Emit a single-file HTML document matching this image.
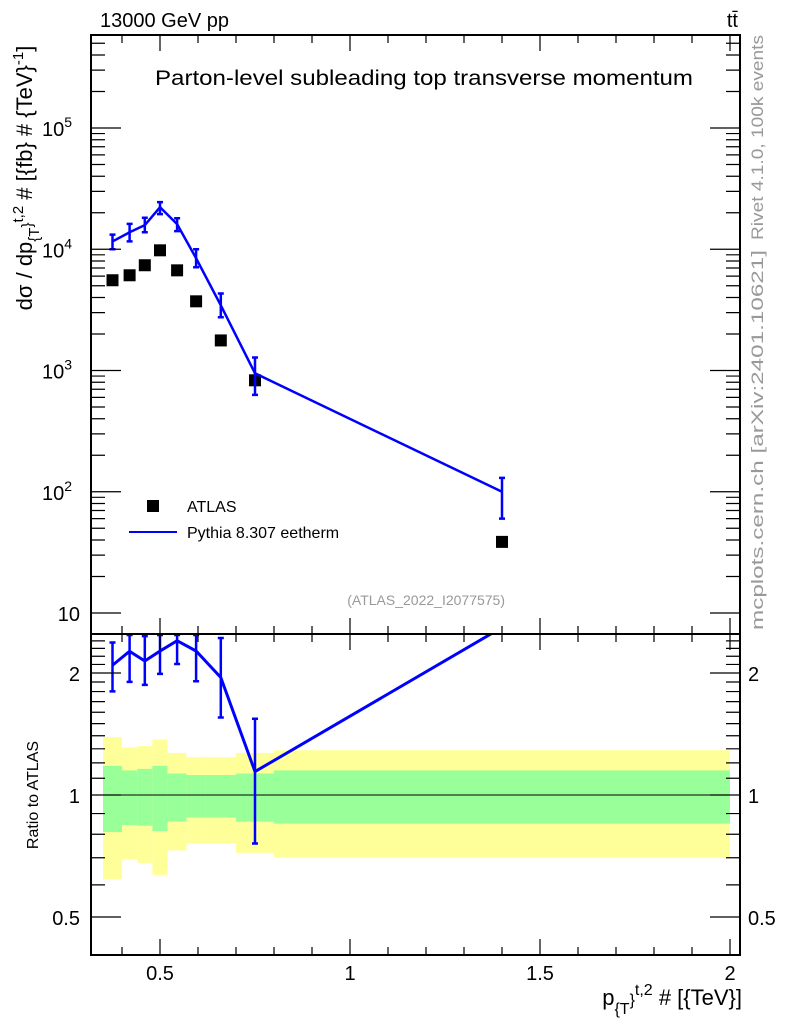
<!DOCTYPE html>
<html><head><meta charset="utf-8"><style>
body{margin:0;background:#fff;}
svg{display:block;font-family:"Liberation Sans",sans-serif;}
</style></head><body>
<svg id="c" width="786" height="1024" viewBox="0 0 786 1024" xmlns="http://www.w3.org/2000/svg">
<rect width="786" height="1024" fill="#fff"/>
<g id="bands"></g>
<g id="marks"></g>
<g id="axes"></g>
<text x="100" y="27" font-size="20">13000 GeV pp</text>
<text x="738" y="27" font-size="20" text-anchor="end">tt̄</text>
<text x="424" y="85" font-size="21" text-anchor="middle" textLength="538" lengthAdjust="spacingAndGlyphs">Parton-level subleading top transverse momentum</text>
<text transform="translate(763,240) rotate(-90)" font-size="17" fill="#999" textLength="205" lengthAdjust="spacingAndGlyphs">Rivet 4.1.0,  100k events</text>
<text transform="translate(763,630) rotate(-90)" font-size="17" fill="#999" textLength="380" lengthAdjust="spacingAndGlyphs">mcplots.cern.ch [arXiv:2401.10621]</text>
<text x="505" y="605" font-size="14" fill="#999" text-anchor="end">(ATLAS_2022_I2077575)</text>
<g>
<rect x="147" y="500" width="12" height="12" fill="#000"/>
<text x="187" y="512" font-size="16">ATLAS</text>
<line x1="129" y1="532" x2="177" y2="532" stroke="#00f" stroke-width="2"/>
<text x="187" y="538" font-size="16">Pythia 8.307 eetherm</text>
</g>
<text transform="translate(32,178) rotate(-90)" font-size="22" text-anchor="middle">dσ / dp<tspan font-size="15" dy="7">{T</tspan><tspan font-size="15" dy="-7">}</tspan><tspan font-size="15" dy="-9">t,2</tspan><tspan dy="9"> # [{fb} # {TeV}</tspan><tspan font-size="15" dy="-9">-1</tspan><tspan dy="9">]</tspan></text>
<text transform="translate(38,795) rotate(-90)" font-size="16" text-anchor="middle">Ratio to ATLAS</text>
<text x="742" y="1005" font-size="22" text-anchor="end">p<tspan font-size="16" dy="9">{T</tspan><tspan font-size="16" dy="-9">}</tspan><tspan font-size="16" dy="-10">t,2</tspan><tspan dy="10"> # [{TeV}]</tspan></text>
</svg>
<script>
const binEdges=[0.35,0.40,0.44,0.48,0.52,0.57,0.62,0.70,0.80,2.0];
const atlasVals=[5550,6100,7380,9800,6700,3720,1770,830,38.6];
const pythiaVals=[11600,13800,15800,22200,16100,8430,3450,948,100];
const pythiaUp=[13200,16200,18200,24500,18000,10000,4320,1280,130];
const pythiaDn=[10000,11600,13800,19500,14100,7100,2750,630,60];
const yelUp=[1.39,1.31,1.32,1.37,1.27,1.24,1.24,1.27,1.29];
const yelDn=[0.62,0.695,0.68,0.635,0.73,0.76,0.76,0.72,0.70];
const grnUp=[1.18,1.15,1.16,1.18,1.13,1.12,1.12,1.13,1.15];
const grnDn=[0.81,0.843,0.84,0.815,0.86,0.88,0.88,0.86,0.85];
const xTicks=[0.5,1,1.5,2];
const xTickLabels=["0.5","1","1.5","2"];
const mainTicks=[10,100,1000,10000,100000];
const ratioTicks=[0.5,1,2];
const ratioTickLabels=["0.5","1","2"];

const L=91,R=740,T=35,MB=634,RB=955;
const X=v=>160+(v-0.5)*380;
const Y=v=>128-(Math.log10(v)-5)*121.25;
const YR=v=>795-Math.log2(v)*122;
const NS='http://www.w3.org/2000/svg';
function mk(tag,attrs,parent){const e=document.createElementNS(NS,tag);for(const k in attrs)e.setAttribute(k,attrs[k]);parent.appendChild(e);return e;}
const bands=document.getElementById('bands'),marks=document.getElementById('marks'),axes=document.getElementById('axes');

for(let i=0;i<atlasVals.length;i++){
  const x0=X(binEdges[i]),x1=X(binEdges[i+1]);
  let r=mk('rect',{x:x0,y:YR(yelUp[i]),width:x1-x0,height:YR(yelDn[i])-YR(yelUp[i]),fill:'#ffff99'},bands);
  
  
  r=mk('rect',{x:x0,y:YR(grnUp[i]),width:x1-x0,height:YR(grnDn[i])-YR(grnUp[i]),fill:'#99ff99'},bands);
  
  
}
let l1=mk('line',{x1:L,x2:R,y1:YR(1),y2:YR(1),stroke:'#000','stroke-width':1},bands);



const cx=i=>X((binEdges[i]+binEdges[i+1])/2);
for(let i=0;i<atlasVals.length;i++){
  const s=mk('rect',{x:cx(i)-6,y:Y(atlasVals[i])-6,width:12,height:12,fill:'#000'},marks);
  
  
}
const pl=mk('polyline',{points:pythiaVals.map((v,i)=>cx(i)+','+Y(v)).join(' '),fill:'none',stroke:'#00f','stroke-width':2.5},marks);


for(let i=0;i<pythiaVals.length;i++){
  const g=mk('path',{d:`M${cx(i)},${Y(pythiaUp[i])}V${Y(pythiaDn[i])}M${cx(i)-3},${Y(pythiaUp[i])}h6M${cx(i)-3},${Y(pythiaDn[i])}h6`,stroke:'#00f','stroke-width':2.5,fill:'none'},marks);
  
  
}
const clip=mk('clipPath',{id:'rc'},marks);mk('rect',{x:L,y:MB,width:R-L,height:RB-MB},clip);
const rg=mk('g',{'clip-path':'url(#rc)'},marks);


const rl=mk('polyline',{points:pythiaVals.map((v,i)=>cx(i)+','+YR(v/atlasVals[i])).join(' '),fill:'none',stroke:'#00f','stroke-width':3},rg);


for(let i=0;i<pythiaVals.length;i++){
  if(YR(pythiaVals[i]/atlasVals[i])<MB) continue;
  const u=Math.max(MB+1,YR(pythiaUp[i]/atlasVals[i])),d=YR(pythiaDn[i]/atlasVals[i]);
  const g=mk('path',{d:`M${cx(i)},${u}V${d}M${cx(i)-3},${u}h6M${cx(i)-3},${d}h6`,stroke:'#00f','stroke-width':2.5,fill:'none'},rg);
  
  
}
let f=mk('rect',{x:L,y:T,width:R-L,height:MB-T,fill:'none',stroke:'#000','stroke-width':2},axes);


f=mk('rect',{x:L,y:MB,width:R-L,height:RB-MB,fill:'none',stroke:'#000','stroke-width':2},axes);


let d='';
for(let k=4;k<=20;k++){const v=k/10,x=X(v);const maj=(k%5===0);const h=maj?16:8;
  d+=`M${x},${T}v${h}M${x},${MB}v${-h}M${x},${MB}v${h}M${x},${RB}v${-h}`;}
for(let e=1;e<=5;e++){for(let m=1;m<=9;m++){const v=m*Math.pow(10,e);const y=Y(v);if(y<T||y>MB)continue;const h=m===1?30:14;d+=`M${L},${y}h${h}M${R},${y}h${-h}`;}}
for(let m=2;m<=6;m++){const y=Y(m*1e5);if(y>T)d+=`M${L},${y}h14M${R},${y}h-14`;}
for(let k=5;k<=26;k++){const v=k/10,y=YR(v);if(y<MB||y>RB)continue;const maj=(k===5||k===10||k===20);const h=maj?30:14;d+=`M${L},${y}h${h}M${R},${y}h${-h}`;}
const tk=mk('path',{d:d,stroke:'#000','stroke-width':1.2,fill:'none'},axes);


xTicks.forEach((v,i)=>{const t=mk('text',{x:X(v),y:980,'font-size':20,'text-anchor':'middle'},axes);t.textContent=xTickLabels[i];
  
  });
mainTicks.forEach(v=>{const e=Math.round(Math.log10(v));const t=mk('text',{x:e===1?80:72,y:Y(v)+8,'font-size':20,'text-anchor':'end'},axes);
  if(e===1){t.textContent='10';}else{t.textContent='10';const s=mk('tspan',{'font-size':14,dy:-9},t);s.textContent=String(e);}
  
  });
ratioTicks.forEach((v,i)=>{[80,748].forEach((x,j)=>{const t=mk('text',{x:x,y:YR(v)+8,'font-size':20,'text-anchor':j?'start':'end'},axes);t.textContent=ratioTickLabels[i];
  
  });});
</script>
</body></html>
